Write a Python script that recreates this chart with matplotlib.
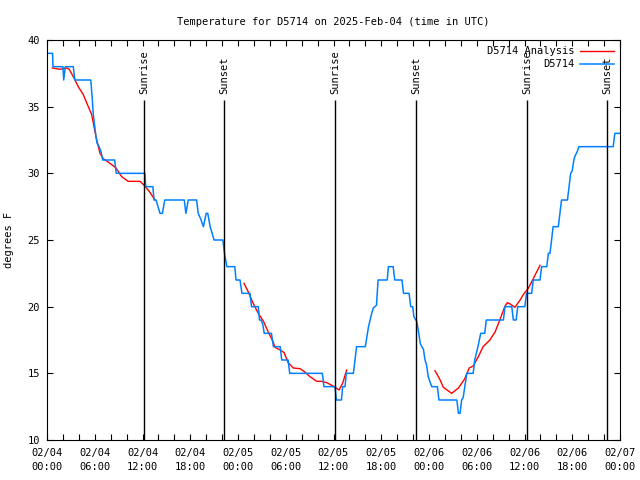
import matplotlib
matplotlib.use('Agg')
import matplotlib.pyplot as plt
import numpy as np

FONT = 'DejaVu Sans Mono'
FS = 7.5

# observed temperature (hours since 2025-02-04 00:00 UTC, degF)
obs_hours = [0.0, 0.7, 0.75, 2.0, 2.1, 2.3, 3.3, 3.5, 5.5, 5.7, 5.8, 6.0, 6.15, 6.3, 6.55, 6.8, 7.0,
             8.5, 8.7, 12.3, 12.4, 13.3, 13.45, 13.7, 14.2, 14.5, 14.8, 17.25, 17.45, 17.75, 18.8,
             19.0, 19.3, 19.65, 20.0, 20.2, 20.5, 20.8, 21.0, 22.1, 22.3, 22.6, 23.6, 23.75, 24.25,
             24.5, 25.5, 25.7, 26.55, 26.7, 26.9, 27.1, 27.3, 28.2, 28.45, 29.3, 29.5, 30.3, 30.5,
             34.6, 34.8, 36.2, 36.35, 37.0, 37.15, 37.45, 37.6, 38.5, 38.7, 38.9, 40.0, 40.2, 40.4,
             40.6, 40.8, 41.0, 41.2, 41.4, 41.6, 42.75, 42.9, 43.5, 43.7, 44.6, 44.8, 45.5, 45.7,
             45.95, 46.1, 46.45, 46.65, 46.9, 47.1, 47.3, 47.5, 47.7, 47.9, 48.1, 48.35, 49.05,
             49.25, 51.5, 51.7, 51.9, 52.1, 52.3, 52.5, 52.75, 53.55, 53.75, 54.15, 54.5, 55.0,
             55.2, 57.35, 57.55, 58.4, 58.6, 58.95, 59.15, 60.05, 60.25, 60.9, 61.1, 61.95, 62.15,
             62.8, 63.0, 63.2, 63.4, 63.6, 64.25, 64.45, 64.65, 65.4, 65.6, 65.8, 66.0, 66.2,
             66.35, 66.6, 66.85, 71.15, 71.35, 72.0]
obs_temp = [39, 39, 38, 38, 37, 38, 38, 37, 37, 35.5, 34.5, 33.5, 32.75, 32.25, 32, 31.6, 31,
            31, 30, 30, 29, 29, 28, 28, 27, 27, 28, 28, 27, 28, 28,
            27, 26.6, 26, 27, 27, 26, 25.4, 25, 25, 24, 23, 23, 22, 22,
            21, 21, 20, 20, 19, 19, 18.7, 18, 18, 17, 17, 16, 16, 15,
            15, 14, 14, 13, 13, 14, 14, 15, 15, 16, 17, 17, 17.75, 18.5,
            19, 19.5, 19.9, 20, 20.1, 22, 22, 23, 23, 22, 22, 21, 21, 20,
            20, 19.25, 18.9, 18.25, 17.25, 17, 16.8, 16, 15.6, 14.75, 14.4, 14, 14,
            13, 13, 12, 12, 13, 13.2, 14, 15, 15, 16, 17, 18, 18,
            19, 19, 20, 20, 19, 19, 20, 20, 21, 21, 22, 22, 23,
            23, 24, 24, 25, 26, 26, 27, 28, 28, 29, 30, 30.2, 31,
            31.3, 31.6, 32, 32, 33, 33]

# analysis (three separate runs, NaN = gap)
ana_hours = [0.67, 1.63, 2.48, 2.8, 3.3, 3.93, 4.56, 5.19, 5.62, 5.94, 6.25, 6.66, 7.07, 7.92,
             8.67, 9.39, 10.2, 11.7, 12.3, 12.9, 13.57, 19.0,
             24.75, 25.3, 25.9, 26.55, 27.2, 27.8, 28.35, 28.65, 29.3, 29.8, 30.3, 30.95, 31.8,
             32.4, 33.05, 33.9, 34.5, 35.15, 35.95, 36.7, 37.15, 37.65, 43.0,
             48.75, 49.4, 49.8, 50.85, 51.7, 52.5, 53.05, 53.55, 54.2, 54.8, 55.65, 56.3, 56.9,
             57.55, 57.85, 58.2, 58.8, 59.45, 59.85, 60.5, 61.1, 61.95]
ana_temp = [37.9, 37.8, 37.9, 37.8, 37.25, 36.5, 35.9, 35, 34.4, 33.4, 32.5, 31.5, 31.1, 30.75,
            30.4, 29.75, 29.4, 29.4, 29.05, 28.6, 28, np.nan,
            21.75, 21.1, 20.25, 19.5, 18.9, 18.1, 17.45, 16.95, 16.75, 16.55, 15.8, 15.4, 15.35,
            15.1, 14.75, 14.4, 14.4, 14.3, 14.05, 13.75, 14.25, 15.25, np.nan,
            15.2, 14.5, 13.95, 13.5, 13.9, 14.6, 15.4, 15.55, 16.25, 17, 17.5, 18.1, 19,
            20.05, 20.3, 20.2, 19.95, 20.5, 20.9, 21.4, 22.1, 23.1]

sunrise_hours = [12.2, 36.2, 60.3]
sunset_hours = [22.25, 46.35, 70.35]

xtick_hours = list(range(0, 73, 6))
xtick_labels = ['02/04\n00:00', '02/04\n06:00', '02/04\n12:00', '02/04\n18:00',
                '02/05\n00:00', '02/05\n06:00', '02/05\n12:00', '02/05\n18:00',
                '02/06\n00:00', '02/06\n06:00', '02/06\n12:00', '02/06\n18:00',
                '02/07\n00:00']

fig = plt.figure(figsize=(6.4, 4.8), dpi=100)
ax = fig.add_axes([47 / 640, 1 - 440 / 480, (620 - 47) / 640, 400 / 480])

ax.plot(ana_hours, ana_temp, color='#ff0000', lw=1.0, label='D5714 Analysis')
ax.plot(obs_hours, obs_temp, color='#0080ff', lw=1.1, label='D5714')

for h in sunrise_hours:
    ax.vlines(h, 10, 35.5, color='black', lw=1.0)
    ax.text(h, 35.95, 'Sunrise', rotation=90, ha='center', va='bottom', fontsize=FS, family=FONT)
for h in sunset_hours:
    ax.vlines(h, 10, 35.5, color='black', lw=1.0)
    ax.text(h, 35.95, 'Sunset', rotation=90, ha='center', va='bottom', fontsize=FS, family=FONT)

ax.set_xlim(0, 72)
ax.set_ylim(10, 40)
ax.set_xticks(xtick_hours)
ax.set_xticklabels(xtick_labels, fontsize=FS, family=FONT, linespacing=1.45)
ax.set_xticks(np.arange(0, 73, 2), minor=True)
ax.set_yticks(range(10, 41, 5))
ax.set_yticklabels([str(v) for v in range(10, 41, 5)], fontsize=FS, family=FONT)
ax.tick_params(which='both', direction='in', top=True, right=True, length=4, width=0.8)
ax.tick_params(axis='x', pad=6)
ax.tick_params(axis='y', pad=5)
for s in ax.spines.values():
    s.set_linewidth(0.8)

ax.set_ylabel('degrees F', fontsize=FS, family=FONT, labelpad=10)
ax.set_title('Temperature for D5714 on 2025-Feb-04 (time in UTC)', fontsize=FS, family=FONT, pad=11)

leg = ax.legend(loc='upper right', frameon=False, markerfirst=False, prop={'family': FONT, 'size': FS},
                handlelength=3.2, handletextpad=0.6, borderaxespad=0.2, labelspacing=0.3)

fig.savefig('out.png', dpi=100)
